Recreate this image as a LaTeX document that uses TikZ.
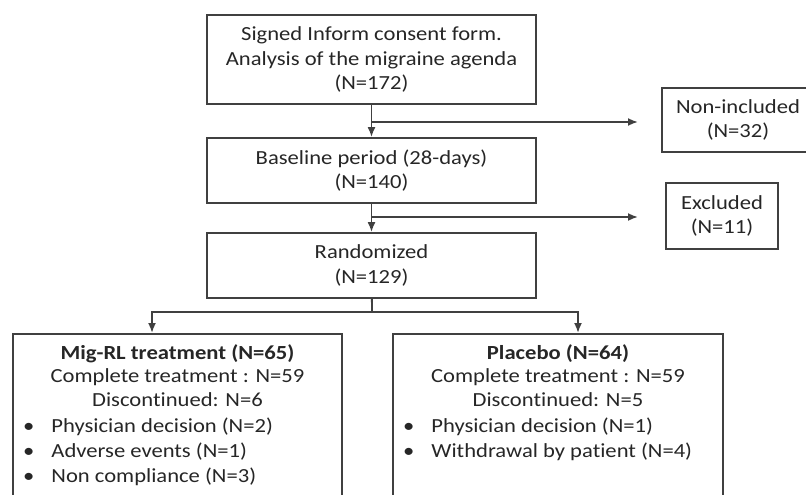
\documentclass[tikz,border=0pt]{standalone}
\usepackage{fontspec}
\setmainfont[FakeStretch=1.13, Ligatures=NoCommon]{Carlito}
\usetikzlibrary{arrows.meta}

\begin{document}
\begin{tikzpicture}[x=1pt, y=-1pt]
\useasboundingbox (0,0) rectangle (806,495);
\clip (0,0) rectangle (806,495);

\coordinate (S1) at (372, 122);
\coordinate (E1) at (638, 122);
\coordinate (S2) at (372, 217);
\coordinate (E2) at (638, 217);
\coordinate (S3) at (372, 312);
\coordinate (A1) at (152, 333);
\coordinate (A2) at (578, 333);


\tikzset{BoxStyle/.style = {
 draw = black!75,
 line width = 1.8pt,
 text = black!85,
 align = center,
 inner sep = 0pt,
 font = \fontsize{20}{24.5}\selectfont} }

\node[BoxStyle, minimum width = 329, minimum height = 89] (Consent) at (371.5, 59.5)
  {Signed Inform consent form.\\Analysis of the migraine agenda\\(N=172)};
\node[BoxStyle, minimum width = 329, minimum height = 65] (Baseline) at (371.5, 170.5)
  {Baseline period (28-days)\\(N=140)};
\node[BoxStyle, minimum width = 329, minimum height = 65] (Random) at (371.5, 265.5)
  {Randomized\\(N=129)};
\node[BoxStyle, minimum width = 152, minimum height = 64] (NonIncl) at (738, 120)
  {Non-included\\(N=32)};
\node[BoxStyle, minimum width = 112, minimum height = 66] (Excl) at (722, 216)
  {Excluded\\(N=11)};
\node[BoxStyle, minimum width = 329, minimum height = 200, anchor = north] (MigRL) at (177.5, 333) {};
\node[BoxStyle, minimum width = 330, minimum height = 200, anchor = north] (Placebo) at (558, 333) {};


\tikzset{TextStyle/.style = {
 text = black!85,
 inner sep = 0pt,
 font = \fontsize{20}{23.7}\selectfont} }
\tikzset{ListStyle/.style = {
 TextStyle,
 align = left,
 font = \fontsize{20}{25}\selectfont} }

\node[TextStyle, align = center, anchor = north] (MigRLHead) at (177.5, 344)
  {\textbf{Mig-RL treatment (N=65)}\\Complete treatment : N=59\\Discontinued: N=6};
\node[ListStyle, anchor = north west] (MigRLList) at (23, 418)
  {\textbullet\hspace{17pt}Physician decision (N=2)\\
   \textbullet\hspace{17pt}Adverse events (N=1)\\
   \textbullet\hspace{17pt}Non compliance (N=3)};
\node[TextStyle, align = center, anchor = north] (PlaceboHead) at (558, 344)
  {\textbf{Placebo (N=64)}\\Complete treatment : N=59\\Discontinued: N=5};
\node[ListStyle, anchor = north west] (PlaceboList) at (403, 418)
  {\textbullet\hspace{17pt}Physician decision (N=1)\\
   \textbullet\hspace{17pt}Withdrawal by patient (N=4)};


\tikzset{EdgeStyle/.style = {
 draw = black!75,
 line width = 1.8pt,
 -{Latex[length=10pt, width=8pt]} } }

\draw[EdgeStyle] (Consent) -- (Baseline);
\draw[EdgeStyle] (S1) -- (E1);
\draw[EdgeStyle] (Baseline) -- (Random);
\draw[EdgeStyle] (S2) -- (E2);
\draw[EdgeStyle, -] (Random) -- (S3);
\draw[EdgeStyle] (S3) -| (A1);
\draw[EdgeStyle] (S3) -| (A2);

\end{tikzpicture}
\end{document}
